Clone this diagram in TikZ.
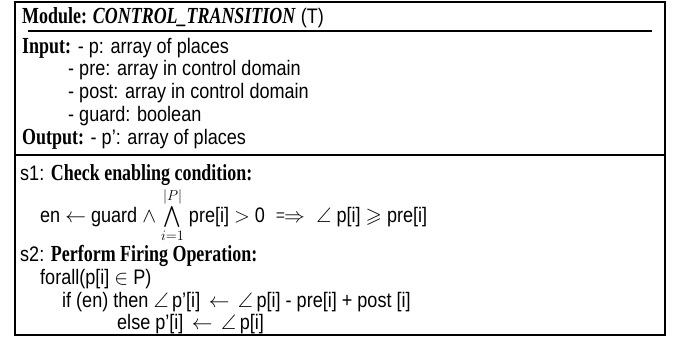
\documentclass[tikz,border=0pt]{standalone}
\usepackage{amsmath,amssymb}
\usepackage{fontspec}
\setmainfont{Liberation Serif}[FakeStretch=0.78]
\setsansfont{Liberation Sans}[FakeStretch=0.86]
\usetikzlibrary{positioning}

\newcommand{\hd}[1]{{\rmfamily\bfseries\fontsize{23}{22}\selectfont #1}}

\begin{document}
\begin{tikzpicture}[x=1pt, y=-1pt,
    txt/.style={anchor=base west, inner sep=0pt, font=\sffamily\fontsize{21}{22}\selectfont},
    rule/.style={line width=1.2pt},
    frame/.style={line width=1.6pt}
]
\useasboundingbox (0,0) rectangle (681,338);

% Box and rules
\draw[frame] (15,2) rectangle (665,335);
\draw[rule] (28,31) -- (652,31);
\draw[frame] (15,155) -- (665,155);

% Header
\node[txt] (module) at (22,23) {\hd{Module: \textit{CONTROL\_TRANSITION}} (T)};
\node[txt] (input) at (22,53) {\hd{Input:} - p: array of places};
\node[txt] (pre) at (68,75) {- pre: array in control domain};
\node[txt] (post) at (68,98) {- post: array in control domain};
\node[txt] (guard) at (68,121) {- guard: boolean};
\node[txt] (output) at (22,144) {\hd{Output:} - p': array of places};

% Step 1
\node[txt] (s1) at (20,180) {s1: \hd{Check enabling condition:}};
\node[txt] (enable) at (40,222) {en $\leftarrow$ guard $\wedge$ $\bigwedge\limits_{i=1}^{|P|}$ pre[i] $>$ 0 $\implies \angle$ p[i] $\geqslant$ pre[i]};

% Step 2
\node[txt] (s2) at (20,261) {s2: \hd{Perform Firing Operation:}};
\node[txt] (forall) at (40,284) {forall(p[i] $\in$ P)};
\node[txt] (ifen) at (62,307) {if (en) then $\angle\,$p'[i] $\,\leftarrow\,$ $\angle\,$p[i] - pre[i] + post [i]};
\node[txt] (elsep) at (117,329) {else p'[i] $\,\leftarrow\,$ $\angle\,$p[i]};

\end{tikzpicture}
\end{document}
